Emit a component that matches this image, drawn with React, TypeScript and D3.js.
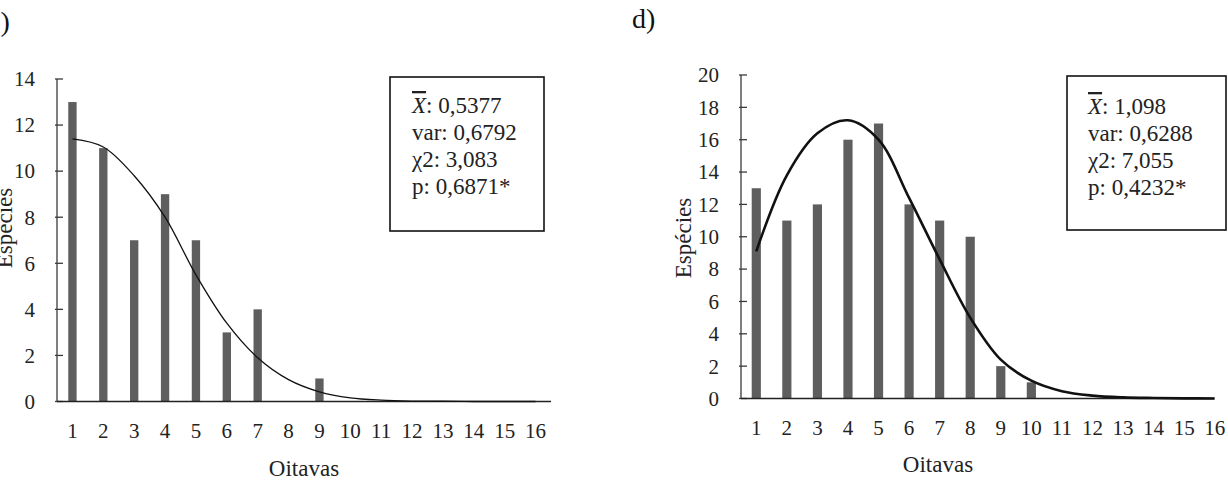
import React from 'react';
import * as d3 from 'd3';

const octaves = ['1', '2', '3', '4', '5', '6', '7', '8', '9', '10', '11', '12', '13', '14', '15', '16'];
const yTicksC = [0, 2, 4, 6, 8, 10, 12, 14];
const yTicksD = [0, 2, 4, 6, 8, 10, 12, 14, 16, 18, 20];
const speciesC = [13, 11, 7, 9, 7, 3, 4, 0, 1, 0, 0, 0, 0, 0, 0, 0];
const fitC = [11.4, 11.05, 9.8, 8.0, 5.5, 3.4, 1.9, 0.95, 0.42, 0.16, 0.06, 0.02, 0.01, 0, 0, 0];
const speciesD = [13, 11, 12, 16, 17, 12, 11, 10, 2, 1, 0, 0, 0, 0, 0, 0];
const fitD = [9.1, 13.8, 16.4, 17.2, 16.0, 12.4, 8.6, 5.0, 2.4, 1.1, 0.45, 0.18, 0.07, 0.03, 0.01, 0];
const statsC = ['0,5377', 'var: 0,6792', 'χ2: 3,083', 'p: 0,6871*'];
const statsD = ['1,098', 'var: 0,6288', 'χ2: 7,055', 'p: 0,4232*'];

const FONT = '"Liberation Serif", "Times New Roman", serif';

type PanelProps = {
  label: string;
  labelX: number;
  labelY: number;
  values: number[];
  fit: number[];
  yTicks: number[];
  yMax: number;
  xRange: [number, number];
  yRange: [number, number];
  axisEnd: number;
  barFrac: number;
  curveWidth: number;
  yTitleX: number;
  yTitleY: number;
  xTitleX: number;
  xTitleY: number;
  tickLabelY: number;
  box: { x: number; y: number; w: number; h: number; tx: number; ty: number; dy: number };
  stats: string[];
};

function Panel(p: PanelProps) {
  const x = d3.scaleBand<string>().domain(octaves).range(p.xRange).padding(0);
  const y = d3.scaleLinear().domain([0, p.yMax]).range(p.yRange);
  const bw = x.step() * p.barFrac;
  const cx = (i: number) => (x(octaves[i]) as number) + x.bandwidth() / 2;
  const line = d3
    .line<number>()
    .x((_, i) => cx(i))
    .y((d) => y(d))
    .curve(d3.curveCatmullRom.alpha(0.5));
  const x0 = p.xRange[0];
  const axisColor = '#3a3a3a';
  return (
    <g fontFamily={FONT}>
      <text x={p.labelX} y={p.labelY} fontSize={28} fill="#111">{p.label}</text>
      {p.values.map((v, i) =>
        v > 0 ? (
          <rect key={i} x={cx(i) - bw / 2} y={y(v)} width={bw} height={y(0) - y(v)} fill="#5e5e5e" />
        ) : null
      )}
      <line x1={x0} x2={x0} y1={y(p.yMax)} y2={y(0)} stroke={axisColor} strokeWidth={1.3} />
      {p.yTicks.map((t) => (
        <g key={t}>
          <line x1={x0 - 2} x2={x0 + 6} y1={y(t)} y2={y(t)} stroke={axisColor} strokeWidth={1.3} />
          <text x={x0 - 22} y={y(t)} dy="0.35em" textAnchor="end" fontSize={21} fill="#222">{t}</text>
        </g>
      ))}
      <line x1={x0} x2={p.axisEnd} y1={y(0)} y2={y(0)} stroke="#222" strokeWidth={1.6} />
      {octaves.map((o, i) => (
        <text key={o} x={cx(i)} y={p.tickLabelY} textAnchor="middle" fontSize={21} fill="#222">{o}</text>
      ))}
      <path d={line(p.fit) || ''} fill="none" stroke="#111" strokeWidth={p.curveWidth} />
      <text x={p.xTitleX} y={p.xTitleY} textAnchor="middle" fontSize={23} fill="#222">Oitavas</text>
      <text
        transform={`translate(${p.yTitleX},${p.yTitleY}) rotate(-90)`}
        textAnchor="middle"
        fontSize={23}
        fill="#222"
      >
        Espécies
      </text>
      <rect x={p.box.x} y={p.box.y} width={p.box.w} height={p.box.h} fill="#fff" stroke="#111" strokeWidth={1.6} />
      <text x={p.box.tx} y={p.box.ty} fontSize={23} fill="#222">
        <tspan fontStyle="italic" style={{ textDecoration: 'overline' }}>X</tspan>
        <tspan>: {p.stats[0]}</tspan>
      </text>
      {p.stats.slice(1).map((s, i) => (
        <text key={s} x={p.box.tx} y={p.box.ty + (i + 1) * p.box.dy} fontSize={23} fill="#222">{s}</text>
      ))}
    </g>
  );
}

export default function App() {
  return (
    <svg
      width={1228}
      height={483}
      style={{ position: 'absolute', left: 0, top: 0, background: '#fff' }}
    >
      <rect x={0} y={0} width={1228} height={483} fill="#fff" />
      <Panel
        label="c)"
        labelX={-12}
        labelY={31}
        values={speciesC}
        fit={fitC}
        yTicks={yTicksC}
        yMax={14}
        xRange={[57, 551]}
        yRange={[401.5, 79]}
        axisEnd={551}
        barFrac={0.27}
        curveWidth={1.3}
        yTitleX={12}
        yTitleY={228}
        xTitleX={304}
        xTitleY={476}
        tickLabelY={438}
        box={{ x: 390, y: 77, w: 154, h: 154, tx: 412, ty: 113, dy: 27 }}
        stats={statsC}
      />
      <Panel
        label="d)"
        labelX={632}
        labelY={28}
        values={speciesD}
        fit={fitD}
        yTicks={yTicksD}
        yMax={20}
        xRange={[741, 1230]}
        yRange={[398.5, 75]}
        axisEnd={1214}
        barFrac={0.3}
        curveWidth={2.6}
        yTitleX={691}
        yTitleY={238}
        xTitleX={938}
        xTitleY={472}
        tickLabelY={435}
        box={{ x: 1067, y: 76, w: 159, h: 154, tx: 1088, ty: 114, dy: 27 }}
        stats={statsD}
      />
    </svg>
  );
}
